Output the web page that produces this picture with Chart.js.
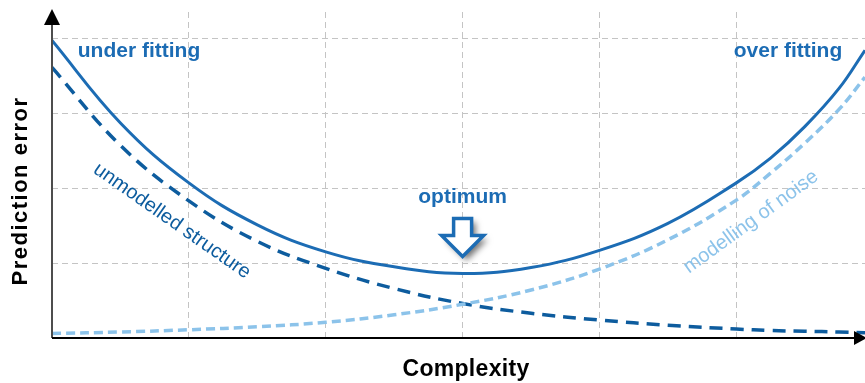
<!DOCTYPE html>
<html>
<head>
<meta charset="utf-8">
<script src="https://cdn.jsdelivr.net/npm/chart.js@4.4.1/dist/chart.umd.min.js"></script>
<style>
    html, body { margin: 0; padding: 0; background: #ffffff; }
    #wrap { width: 865px; height: 383px; }
</style>
</head>
<body>
<div id="wrap"><canvas id="errorChart"></canvas></div>
<script>
// Values (x = complexity, y = prediction error)
const complexity = [0, 0.5, 1, 1.5, 2, 2.5, 3, 3.5, 4, 4.5, 5, 5.25, 5.5, 5.75, 5.94];
const totalError = [3.97, 2.87, 2.07, 1.51, 1.15, 0.95, 0.86, 0.94, 1.17, 1.53, 2.07, 2.4, 2.82, 3.33, 3.84];
const unmodelledStructure = [3.61, 2.57, 1.83, 1.29, 0.93, 0.66, 0.46, 0.33, 0.24, 0.17, 0.12, 0.1, 0.09, 0.08, 0.07];
const modellingOfNoise = [0.06, 0.08, 0.11, 0.15, 0.21, 0.31, 0.45, 0.64, 0.92, 1.31, 1.84, 2.2, 2.6, 3.05, 3.48];

const xTitle = 'Complexity';
const yTitle = 'Prediction error';

const solidBlue = '#1c6cb4';
const darkBlue = '#0d5c9e';
const lightBlue = '#8cc3ea';

function toPoints(values) {
    return complexity.map((x, i) => ({ x: x, y: values[i] }));
}

// helper to draw (optionally rotated) text
function drawText(ctx, text, x, y, font, color, angle, spacing) {
    ctx.save();
    ctx.translate(x, y);
    ctx.rotate(angle * Math.PI / 180);
    ctx.font = font;
    ctx.fillStyle = color;
    ctx.textAlign = 'center';
    ctx.textBaseline = 'middle';
    ctx.letterSpacing = spacing || '0px';
    ctx.fillText(text, 0, 0);
    ctx.restore();
}

// axes with arrows, titles and labels on top of the curves
const decorations = {
    id: 'decorations',
    afterDraw(chart) {
        const ctx = chart.ctx;
        const area = chart.chartArea;
        const xs = chart.scales.x;
        const ys = chart.scales.y;

        // y axis
        ctx.save();
        ctx.strokeStyle = '#4d4d4d';
        ctx.lineWidth = 2;
        ctx.beginPath();
        ctx.moveTo(area.left, area.bottom);
        ctx.lineTo(area.left, area.top + 12);
        ctx.stroke();
        ctx.fillStyle = '#000000';
        ctx.beginPath();
        ctx.moveTo(area.left, area.top - 3);
        ctx.lineTo(area.left - 8, area.top + 13);
        ctx.lineTo(area.left + 8, area.top + 13);
        ctx.closePath();
        ctx.fill();

        // x axis
        ctx.strokeStyle = '#000000';
        ctx.beginPath();
        ctx.moveTo(area.left, area.bottom);
        ctx.lineTo(area.right - 8, area.bottom);
        ctx.stroke();
        ctx.beginPath();
        ctx.moveTo(area.right + 2, area.bottom);
        ctx.lineTo(area.right - 11, area.bottom - 7);
        ctx.lineTo(area.right - 11, area.bottom + 7);
        ctx.closePath();
        ctx.fill();
        ctx.restore();

        // axis titles
        drawText(ctx, xTitle, 466, area.bottom + 32, 'bold 23px "Liberation Sans", Arial, sans-serif', '#000000', 0, '0.3px');
        drawText(ctx, yTitle, 21, 191, 'bold 22px "Liberation Sans", Arial, sans-serif', '#000000', -90, '1.5px');

        // region labels
        drawText(ctx, 'under fitting', 139, 51, 'bold 21px "Liberation Sans", Arial, sans-serif', solidBlue, 0);
        drawText(ctx, 'over fitting', 788, 51, 'bold 21px "Liberation Sans", Arial, sans-serif', solidBlue, 0);
        drawText(ctx, 'unmodelled structure', 172, 221, '20px "Liberation Sans", Arial, sans-serif', darkBlue, 35);
        drawText(ctx, 'modelling of noise', 751, 222, '20px "Liberation Sans", Arial, sans-serif', lightBlue, -36);

        // optimum marker, anchored on the minimum of the total error
        let best = 0;
        totalError.forEach((v, i) => { if (v < totalError[best]) best = i; });
        const ox = xs.getPixelForValue(complexity[best]);
        const oy = ys.getPixelForValue(totalError[best]);
        drawText(ctx, 'optimum', ox, oy - 76, 'bold 21px "Liberation Sans", Arial, sans-serif', solidBlue, 0);

        ctx.save();
        ctx.shadowColor = 'rgba(0, 0, 0, 0.55)';
        ctx.shadowBlur = 6;
        ctx.shadowOffsetX = 4;
        ctx.shadowOffsetY = 4;
        const tipY = oy - 17;
        ctx.beginPath();
        ctx.moveTo(ox - 9, tipY - 38);
        ctx.lineTo(ox + 9, tipY - 38);
        ctx.lineTo(ox + 9, tipY - 21);
        ctx.lineTo(ox + 21, tipY - 21);
        ctx.lineTo(ox, tipY);
        ctx.lineTo(ox - 21, tipY - 21);
        ctx.lineTo(ox - 9, tipY - 21);
        ctx.closePath();
        ctx.fillStyle = '#ffffff';
        ctx.fill();
        ctx.shadowColor = 'transparent';
        ctx.strokeStyle = solidBlue;
        ctx.lineWidth = 3.5;
        ctx.lineJoin = 'miter';
        ctx.stroke();
        ctx.restore();
    }
};

function renderChart() {
    const ctx = document.getElementById('errorChart').getContext('2d');
    new Chart(ctx, {
        type: 'line',
        data: {
            datasets: [
                {
                    label: 'modelling of noise',
                    data: toPoints(modellingOfNoise),
                    borderColor: lightBlue,
                    borderWidth: 3.5,
                    borderDash: [9, 5],
                    pointRadius: 0,
                    tension: 0.4,
                    fill: false
                },
                {
                    label: 'unmodelled structure',
                    data: toPoints(unmodelledStructure),
                    borderColor: darkBlue,
                    borderWidth: 3.5,
                    borderDash: [13, 8],
                    pointRadius: 0,
                    tension: 0.4,
                    fill: false
                },
                {
                    label: 'total error',
                    data: toPoints(totalError),
                    borderColor: solidBlue,
                    borderWidth: 3,
                    pointRadius: 0,
                    tension: 0.4,
                    fill: false
                }
            ]
        },
        options: {
            responsive: true,
            maintainAspectRatio: false,
            animation: false,
            layout: {
                padding: { left: 52, top: 12, right: 0, bottom: 45 }
            },
            scales: {
                x: {
                    type: 'linear',
                    min: 0,
                    max: 5.94,
                    ticks: { display: false, stepSize: 1 },
                    grid: {
                        drawTicks: false,
                        lineWidth: 1,
                        color: c => (c.tick && Number.isInteger(c.tick.value) && c.tick.value > 0) ? '#c4c4c4' : 'transparent'
                    },
                    border: { display: false, dash: [6, 4] }
                },
                y: {
                    min: 0,
                    max: 4.35,
                    ticks: { display: false, stepSize: 1 },
                    grid: {
                        drawTicks: false,
                        lineWidth: 1,
                        color: c => (c.tick && Number.isInteger(c.tick.value) && c.tick.value > 0) ? '#c4c4c4' : 'transparent'
                    },
                    border: { display: false, dash: [6, 4] }
                }
            },
            plugins: {
                legend: { display: false },
                tooltip: { enabled: false }
            }
        },
        plugins: [decorations]
    });
}

document.addEventListener('DOMContentLoaded', renderChart);
</script>
</body>
</html>
